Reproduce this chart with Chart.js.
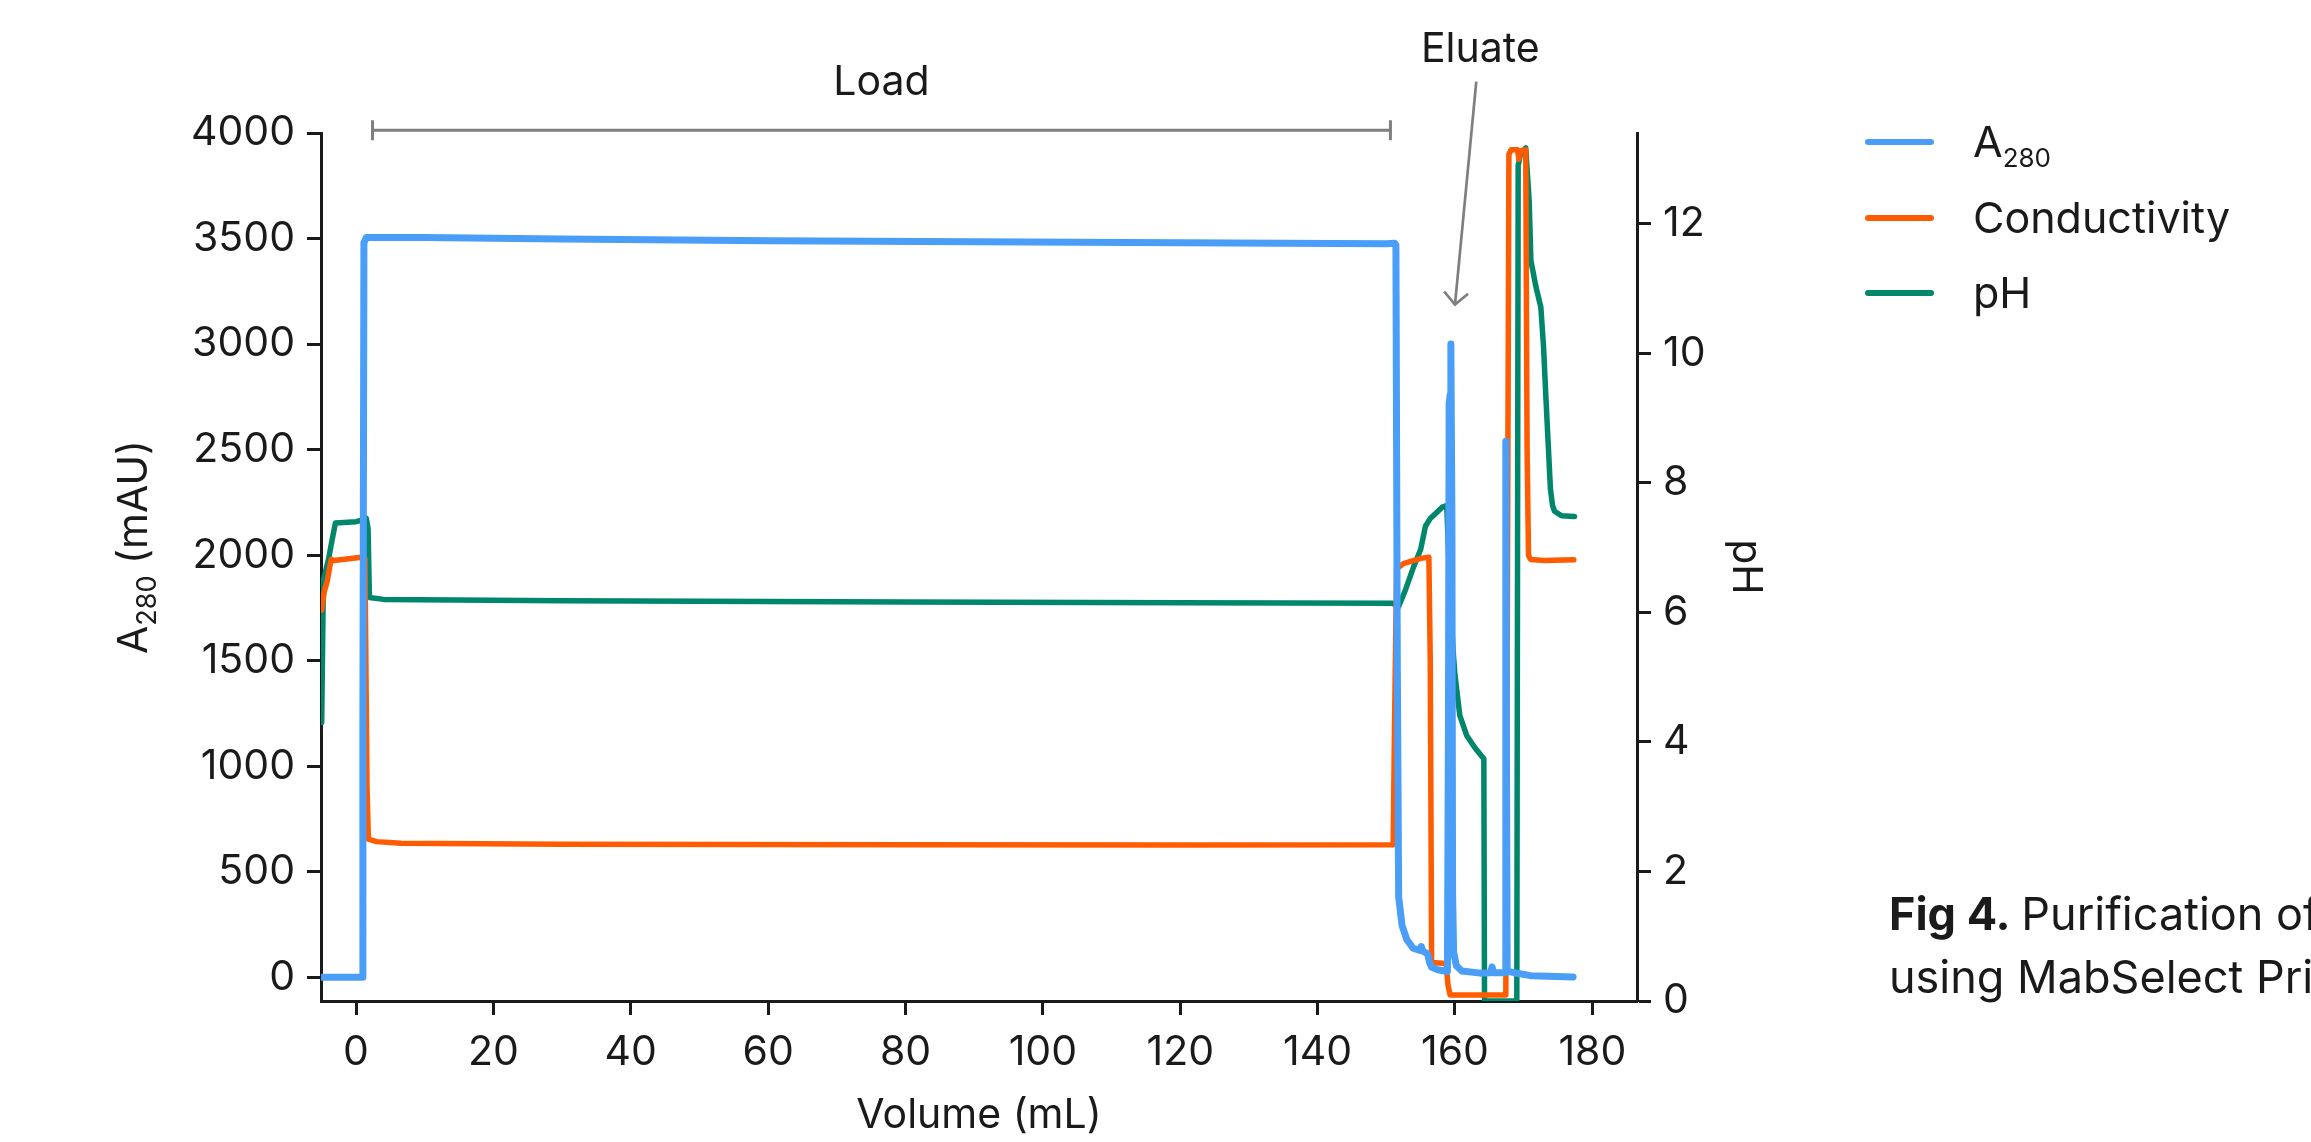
<!DOCTYPE html>
<html>
<head>
<meta charset="utf-8">
<script src="https://cdn.jsdelivr.net/npm/chart.js@4.4.1/dist/chart.umd.min.js"></script>
<style>
  html, body { margin: 0; padding: 0; background: #fff; overflow: hidden; }
  #wrap { position: relative; width: 2311px; height: 1142px; }
</style>
</head>
<body>
<div id="wrap"><canvas id="chromatogram"></canvas></div>
<script>
// Chromatogram traces (volume in mL)
const a280Volume = [-5.0, 0.9, 1.0, 1.15, 1.5, 10, 30, 60, 90, 120, 150, 151.2, 151.4, 151.6, 151.8,
  152.3, 153.0, 153.9, 154.9, 155.1, 155.3, 156.0, 156.3, 156.6, 157.5, 158.9, 159.05, 159.15, 159.3,
  159.4, 159.55, 159.65, 159.8, 160.2, 161.0, 163.7, 165.2, 165.4, 165.6, 167.3, 167.4, 167.5, 167.6,
  168.6, 171.0, 177.2];
const a280Values = [0, 0, 1200, 3480, 3505, 3505, 3498, 3490, 3485, 3480, 3475, 3478, 3470, 1500, 380,
  245, 178, 138, 128, 146, 125, 112, 70, 48, 36, 28, 1200, 2720, 2760,
  3000, 2200, 400, 120, 55, 30, 20, 22, 50, 22, 22, 2540, 1000, 30,
  22, 8, 2];

// conductivity has no axis of its own in the figure, so it is plotted on the A280 scale
const condVolume = [-5.0, -4.8, -4.6, -4.2, -3.8, -3.6, -3.2, 0.8, 1.3, 1.6, 1.8, 3.0, 6.5, 30, 80, 120,
  151.0, 151.2, 151.5, 152.5, 154.0, 155.2, 156.2, 156.4, 156.6, 158.7, 159.0, 159.3, 167.4, 167.6,
  167.85, 168.2, 169.1, 169.3, 169.5, 170.3, 170.5, 170.7, 171.0, 173.0, 177.3];
const condValues = [1740, 1790, 1830, 1875, 1950, 1980, 1975, 1990, 1985, 900, 655, 643, 635, 630, 628, 627,
  628, 1200, 1935, 1960, 1975, 1986, 1990, 1500, 70, 66, -40, -84, -84, 1500,
  3900, 3921, 3921, 3875, 3915, 3921, 2500, 2000, 1980, 1975, 1978];

const phVolume = [-5.0, -4.75, -4.0, -3.5, -3.0, 0, 1.1, 1.5, 1.75, 1.95, 4.0, 30, 80, 120, 150.9,
  151.8, 152.8, 154.0, 155.0, 155.7, 156.4, 157.1, 158.1, 158.8, 159.4, 159.8, 160.0, 160.7, 161.7,
  162.9, 164.2, 164.3, 169.0, 169.2, 169.6, 170.3, 170.8, 171.05, 171.8, 172.5, 172.9, 173.2, 173.5,
  173.9, 174.2, 174.5, 175.5, 177.4];
const phValues = [4.3, 6.5, 6.82, 7.11, 7.38, 7.4, 7.43, 7.45, 7.3, 6.23, 6.2, 6.18, 6.16, 6.15, 6.14,
  6.09, 6.35, 6.71, 6.97, 7.33, 7.45, 7.52, 7.62, 7.65, 6.0, 5.3, 5.03, 4.41, 4.1,
  3.91, 3.74, 0, 0, 12.9, 13.1, 13.17, 12.36, 11.43, 11.02, 10.71, 10.09, 9.4, 8.75,
  7.9, 7.65, 7.56, 7.49, 7.48];

const volumeTicks = [0, 20, 40, 60, 80, 100, 120, 140, 160, 180];
const a280Ticks = [0, 500, 1000, 1500, 2000, 2500, 3000, 3500, 4000];
const phTicks = [0, 2, 4, 6, 8, 10, 12];

// annotation anchors in data units (mL, mAU)
const loadRange = [2.4, 150.6];
const loadLevel = 4013;
const eluateArrow = { fromX: 163.1, fromY: 4243, toX: 160.0, toY: 3187 };

const FONT = 'Inter, "Noto Sans", sans-serif';
const INK = '#1a1a1a';
const GREY = '#7f7f7f';
const BLUE = '#4a9ef7';
const ORANGE = '#ff5b00';
const GREEN = '#00876b';

function toPoints(xs, ys) {
    return xs.map((v, i) => ({ x: v, y: ys[i] }));
}

// draws e.g. A + subscript 280 + tail, returns the width used
function drawSubText(ctx, main, sub, tail, x, y, size, subSize, drop) {
    ctx.font = `${size}px ${FONT}`;
    ctx.fillText(main, x, y);
    let w = ctx.measureText(main).width;
    ctx.font = `${subSize}px ${FONT}`;
    ctx.fillText(sub, x + w, y + drop);
    w += ctx.measureText(sub).width;
    if (tail) {
        ctx.font = `${size}px ${FONT}`;
        ctx.fillText(tail, x + w, y);
        w += ctx.measureText(tail).width;
    }
    return w;
}

function measureSubText(ctx, main, sub, tail, size, subSize) {
    ctx.font = `${size}px ${FONT}`;
    let w = ctx.measureText(main).width + ctx.measureText(tail).width;
    ctx.font = `${subSize}px ${FONT}`;
    return w + ctx.measureText(sub).width;
}

const annotations = {
    id: 'runAnnotations',
    afterDatasetsDraw(chart) {
        const { ctx, scales: { x, y } } = chart;
        ctx.save();

        // Load bracket
        const x0 = x.getPixelForValue(loadRange[0]);
        const x1 = x.getPixelForValue(loadRange[1]);
        const yb = y.getPixelForValue(loadLevel);
        ctx.strokeStyle = GREY;
        ctx.lineWidth = 3;
        ctx.beginPath();
        ctx.moveTo(x0, yb); ctx.lineTo(x1, yb);
        ctx.moveTo(x0, yb - 10); ctx.lineTo(x0, yb + 10);
        ctx.moveTo(x1, yb - 10); ctx.lineTo(x1, yb + 10);
        ctx.stroke();

        ctx.fillStyle = INK;
        ctx.font = `41px ${FONT}`;
        ctx.textAlign = 'center';
        ctx.textBaseline = 'alphabetic';
        ctx.fillText('Load', (x0 + x1) / 2, yb - 35);

        // Eluate arrow
        const ax = x.getPixelForValue(eluateArrow.fromX);
        const ay = y.getPixelForValue(eluateArrow.fromY);
        const tx = x.getPixelForValue(eluateArrow.toX);
        const ty = y.getPixelForValue(eluateArrow.toY);
        const ang = Math.atan2(ty - ay, tx - ax);
        const head = 17;
        ctx.lineWidth = 2.7;
        ctx.beginPath();
        ctx.moveTo(ax, ay); ctx.lineTo(tx, ty);
        ctx.moveTo(tx - head * Math.cos(ang - Math.PI / 4), ty - head * Math.sin(ang - Math.PI / 4));
        ctx.lineTo(tx, ty);
        ctx.lineTo(tx - head * Math.cos(ang + Math.PI / 4), ty - head * Math.sin(ang + Math.PI / 4));
        ctx.stroke();
        ctx.fillText('Eluate', ax + 4, ay - 20);

        ctx.restore();
    },
    afterDraw(chart) {
        const { ctx, chartArea } = chart;
        ctx.save();
        ctx.fillStyle = INK;
        ctx.textAlign = 'left';
        ctx.textBaseline = 'alphabetic';

        // left axis title with subscript
        const size = 41, subSize = 27;
        const tw = measureSubText(ctx, 'A', '280', ' (mAU)', size, subSize);
        ctx.translate(133, (chartArea.top + chartArea.bottom) / 2 - 20);
        ctx.rotate(-Math.PI / 2);
        drawSubText(ctx, 'A', '280', ' (mAU)', -tw / 2, 14, size, subSize, 9);
        ctx.setTransform(1, 0, 0, 1, 0, 0);

        // side legend
        const legendRows = [142, 218, 293];
        chart.data.datasets.forEach((ds, i) => {
            const ly = legendRows[i];
            ctx.strokeStyle = ds.borderColor;
            ctx.lineWidth = 6;
            ctx.lineCap = 'round';
            ctx.beginPath();
            ctx.moveTo(1868, ly);
            ctx.lineTo(1931, ly);
            ctx.stroke();
            ctx.fillStyle = INK;
            if (ds.label === 'A280') {
                drawSubText(ctx, 'A', '280', '', 1973, ly + 15, 43, 26, 10);
            } else {
                ctx.font = `43px ${FONT}`;
                ctx.fillText(ds.label, 1973, ly + 15);
            }
        });

        // caption, running off the right edge as in the source figure
        ctx.font = `bold 45px ${FONT}`;
        ctx.fillText('Fig 4.', 1889, 930);
        const fw = ctx.measureText('Fig 4. ').width;
        ctx.font = `45px ${FONT}`;
        ctx.fillText('Purification of', 1889 + fw, 930);
        ctx.fillText('using MabSelect PrismA', 1889, 993);

        ctx.restore();
    }
};

const tickFont = { family: FONT, size: 41 };
const axisBorder = { display: true, color: INK, width: 3 };
const axisGrid = { drawOnChartArea: false, drawTicks: true, tickLength: 14, tickColor: INK, tickWidth: 3 };

const ctx = document.getElementById('chromatogram').getContext('2d');
const chart = new Chart(ctx, {
    type: 'line',
    data: {
        datasets: [
            {
                label: 'A280',
                data: toPoints(a280Volume, a280Values),
                borderColor: BLUE,
                borderWidth: 7,
                yAxisID: 'y'
            },
            {
                label: 'Conductivity',
                data: toPoints(condVolume, condValues),
                borderColor: ORANGE,
                borderWidth: 5.5,
                yAxisID: 'y'
            },
            {
                label: 'pH',
                data: toPoints(phVolume, phValues),
                borderColor: GREEN,
                borderWidth: 5.5,
                yAxisID: 'y1'
            }
        ]
    },
    options: {
        responsive: true,
        maintainAspectRatio: false,
        animation: false,
        layout: { padding: { top: 133, left: 0, right: 541, bottom: 0 } },
        elements: {
            point: { radius: 0 },
            line: { tension: 0, borderJoinStyle: 'round', borderCapStyle: 'round' }
        },
        plugins: {
            legend: { display: false },
            tooltip: { enabled: false }
        },
        scales: {
            x: {
                type: 'linear',
                min: -5.1,
                max: 186.5,
                border: axisBorder,
                grid: axisGrid,
                afterBuildTicks: (scale) => { scale.ticks = volumeTicks.map(v => ({ value: v })); },
                afterFit: (scale) => { scale.height = 141; },
                ticks: { font: tickFont, color: INK, padding: 13, maxRotation: 0, callback: v => String(v) },
                title: { display: true, text: 'Volume (mL)', font: tickFont, color: INK, padding: { top: 0, bottom: 2 } }
            },
            y: {
                type: 'linear',
                position: 'left',
                min: -112,
                max: 4000,
                border: axisBorder,
                grid: axisGrid,
                afterBuildTicks: (scale) => { scale.ticks = a280Ticks.map(v => ({ value: v })); },
                afterFit: (scale) => { scale.width = 321; },
                ticks: { font: tickFont, color: INK, padding: 12, callback: v => String(v) }
            },
            y1: {
                type: 'linear',
                position: 'right',
                min: 0,
                max: 13.4,
                border: axisBorder,
                grid: axisGrid,
                afterBuildTicks: (scale) => { scale.ticks = phTicks.map(v => ({ value: v })); },
                afterFit: (scale) => { scale.width = 133; },
                ticks: { font: tickFont, color: INK, padding: 12, callback: v => String(v) },
                title: { display: true, text: 'pH', font: tickFont, color: INK, padding: { top: 0, bottom: 0 } }
            }
        }
    },
    plugins: [annotations]
});
</script>
</body>
</html>
